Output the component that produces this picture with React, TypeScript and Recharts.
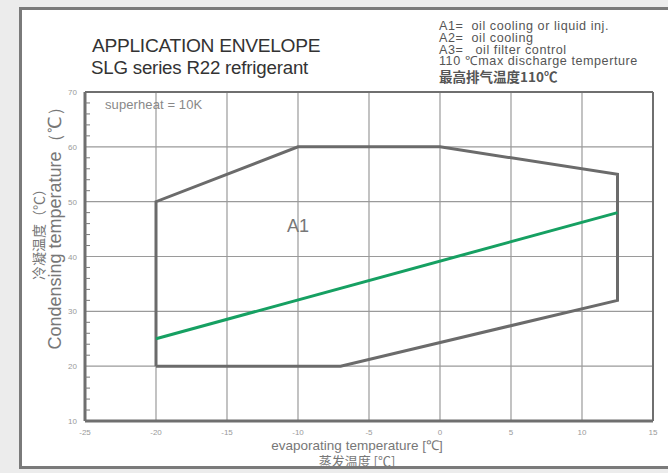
import React from "react";
import { ComposedChart, Line, XAxis, YAxis, CartesianGrid } from "recharts";

const xTicks = [-25, -20, -15, -10, -5, 0, 5, 10, 15];
const yTicks = [10, 20, 30, 40, 50, 60, 70];
const yAllTicks = [10, 12, 14, 16, 18, 20, 22, 24, 26, 28, 30, 32, 34, 36, 38, 40, 42, 44, 46, 48, 50, 52, 54, 56, 58, 60, 62, 64, 66, 68, 70];

// Application envelope (A1) polygon: evaporating temp (x), condensing temp (y)
const envelope = [
  { x: -20, y: 20 },
  { x: -20, y: 50 },
  { x: -10, y: 60 },
  { x: 0, y: 60 },
  { x: 12.5, y: 55 },
  { x: 12.5, y: 32 },
  { x: -7, y: 20 },
  { x: -20, y: 20 },
];

// 110°C max discharge temperature line
const dischargeLine = [
  { x: -20, y: 25 },
  { x: 12.5, y: 48 },
];

const titleLines = ["APPLICATION ENVELOPE", "SLG series R22 refrigerant"];
const legendLines = [
  "A1=  oil cooling or liquid inj.",
  "A2=  oil cooling",
  "A3=   oil filter control",
  "110 ℃max discharge temperture",
  "最高排气温度110℃",
];

const SANS = "Liberation Sans, Arial, sans-serif";
const CJK = "Noto Sans CJK SC, sans-serif";
const tickStyle = { fontSize: 8, fill: "#9a9a9a", fontFamily: SANS };

const YTick = (props: any) => {
  const { x, y, payload } = props;
  const v = payload.value;
  const major = yTicks.includes(v);
  const axisX = x + 8;
  return (
    <g>
      <line x1={axisX} x2={axisX + (major ? 0 : 5)} y1={y} y2={y} stroke="#7a7a7a" strokeWidth={1} />
      {major && (
        <text x={x} y={y} dy={3} textAnchor="end" fontSize={8} fill="#9a9a9a" fontFamily={SANS}>
          {v}
        </text>
      )}
    </g>
  );
};

export default function App() {
  return (
    <div style={{ position: "absolute", left: 0, top: 0, width: 668, height: 473, background: "#ececec", overflow: "hidden" }}>
      <div
        style={{
          position: "absolute",
          left: 19,
          top: 7,
          width: 760,
          height: 456,
          border: "3px solid #7a7a7a",
          background: "#ffffff",
        }}
      />
      <div style={{ position: "absolute", left: 0, top: 0 }}>
        <ComposedChart
          width={668}
          height={473}
          margin={{ top: 92, right: 15, left: 0, bottom: 0 }}
        >
          <CartesianGrid stroke="#9a9a9a" strokeWidth={1.2} horizontalValues={yTicks} verticalValues={xTicks} />
          <XAxis
            type="number"
            dataKey="x"
            domain={[-25, 15]}
            ticks={xTicks}
            height={52}
            tick={tickStyle}
            tickLine={false}
            axisLine={{ stroke: "#6f6f6f", strokeWidth: 3 }}
            allowDataOverflow
          />
          <YAxis
            type="number"
            dataKey="y"
            domain={[10, 70]}
            ticks={yAllTicks}
            interval={0}
            width={85}
            tick={<YTick />}
            tickLine={false}
            axisLine={{ stroke: "#6f6f6f", strokeWidth: 3 }}
            allowDataOverflow
          />
          <Line
            data={envelope}
            dataKey="y"
            type="linear"
            stroke="#6b6b6b"
            strokeWidth={3}
            dot={false}
            isAnimationActive={false}
          />
          <Line
            data={dischargeLine}
            dataKey="y"
            type="linear"
            stroke="#16a062"
            strokeWidth={3}
            dot={false}
            isAnimationActive={false}
          />
          <line x1={653} y1={92} x2={653} y2={421} stroke="#6f6f6f" strokeWidth={2} />
          <line x1={85} y1={92} x2={653} y2={92} stroke="#6f6f6f" strokeWidth={2} />
        </ComposedChart>
      </div>

      {/* Titles */}
      <div style={{ position: "absolute", left: 92, top: 35, fontFamily: SANS, fontSize: 19.2, color: "#333", letterSpacing: -0.3, whiteSpace: "nowrap" }}>
        {titleLines[0]}
      </div>
      <div style={{ position: "absolute", left: 91, top: 57, fontFamily: SANS, fontSize: 18.7, color: "#333", letterSpacing: -0.2, whiteSpace: "nowrap" }}>
        {titleLines[1]}
      </div>

      {/* Legend notes */}
      <div style={{ position: "absolute", left: 439, top: 21, fontFamily: SANS, fontSize: 12.6, lineHeight: "11.8px", letterSpacing: 0.55, color: "#555", whiteSpace: "pre" }}>
        {legendLines.slice(0, 4).map((t, i) => (
          <div key={i}>{t}</div>
        ))}
        <div style={{ fontFamily: CJK, fontSize: 13.5, lineHeight: "17px", fontWeight: 700, letterSpacing: 0 }}>{legendLines[4]}</div>
      </div>

      {/* In-plot annotations */}
      <div style={{ position: "absolute", left: 105, top: 97, fontFamily: SANS, fontSize: 13, letterSpacing: 0.1, color: "#888", whiteSpace: "nowrap" }}>
        superheat = 10K
      </div>
      <div style={{ position: "absolute", left: 287, top: 216, fontFamily: SANS, fontSize: 18, color: "#777", whiteSpace: "nowrap" }}>
        A1
      </div>

      {/* X axis title */}
      <div style={{ position: "absolute", left: 357, top: 439, transform: "translateX(-50%)", textAlign: "center", fontFamily: "Liberation Sans Narrow, Liberation Sans, Arial, sans-serif", fontSize: 13.5, lineHeight: "14px", color: "#777", whiteSpace: "nowrap" }}>
        <div>evaporating temperature [℃]</div>
        <div style={{ fontFamily: CJK, fontSize: 13, lineHeight: "16px" }}>蒸发温度 [℃]</div>
      </div>

      {/* Y axis title */}
      <div style={{ position: "absolute", left: 38, top: 231, transform: "translate(-50%, -50%) rotate(-90deg)", fontFamily: CJK, fontSize: 14, lineHeight: "16px", color: "#777", whiteSpace: "nowrap" }}>
        冷凝温度（℃）
      </div>
      <div style={{ position: "absolute", left: 55, top: 224, transform: "translate(-50%, -50%) rotate(-90deg)", fontFamily: SANS, fontSize: 18, lineHeight: "18px", color: "#777", whiteSpace: "nowrap" }}>
        Condensing temperature（℃）
      </div>
    </div>
  );
}
